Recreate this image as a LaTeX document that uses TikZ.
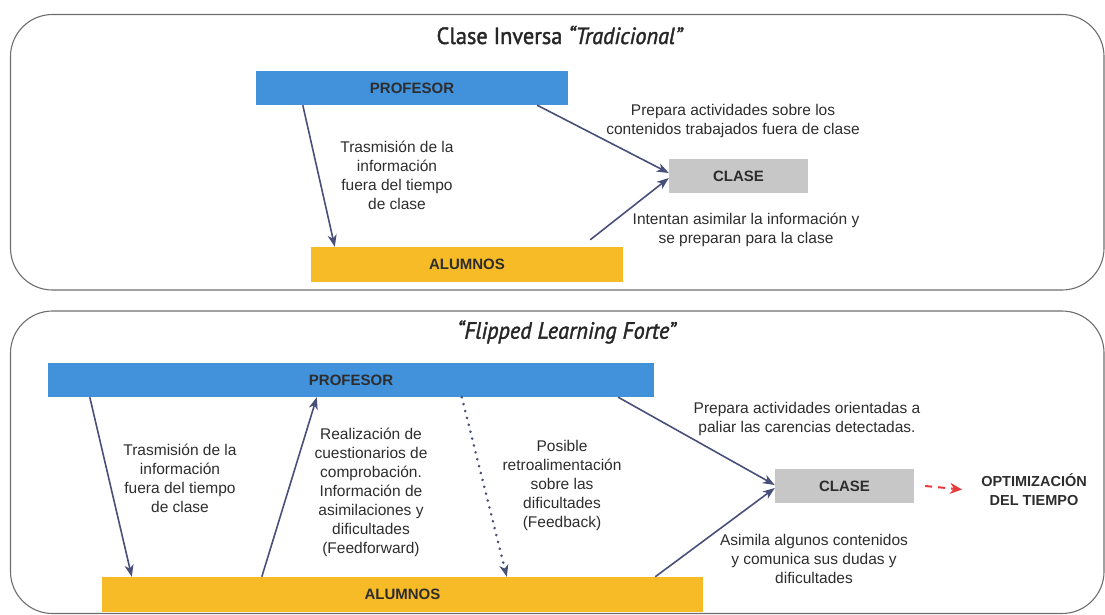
\documentclass[tikz,border=0pt]{standalone}
\usepackage{fontspec}
\setmainfont{Liberation Sans}
\newfontfamily\titulofont[FakeStretch=0.95,FakeBold=1.6]{PT Sans}
\usetikzlibrary{arrows.meta}
\definecolor{azul}{RGB}{66,146,219}
\definecolor{amarillo}{RGB}{246,187,38}
\definecolor{grisclase}{RGB}{199,199,199}
\definecolor{flechacol}{RGB}{72,80,122}
\definecolor{textocol}{RGB}{45,45,45}
\definecolor{rojo}{RGB}{232,58,58}
\definecolor{marco}{RGB}{110,110,110}

\begin{document}
\begin{tikzpicture}[x=1pt, y=-1pt,
    panel/.style={draw=marco, line width=1.1pt, rounded corners=42pt},
    caja/.style={fill=#1, inner sep=0pt, text=textocol,
      font=\fontsize{15}{18}\selectfont\bfseries},
    titulo/.style={text=black!85, inner sep=0pt, font=\titulofont\fontsize{23.5}{26}\selectfont},
    etiqueta/.style={align=center, text=textocol, inner sep=0pt,
      font=\fontsize{15.5}{19}\selectfont},
    flecha/.style={draw=flechacol, line width=1.6pt, -{Stealth[length=12pt,width=9pt,inset=3.5pt]}},
    punteada/.style={flecha, line cap=round, dash pattern=on 0.1pt off 7pt, line width=2.8pt},
    optim/.style={-{Stealth[length=12pt,width=11pt]}, draw=rojo, line width=2pt, dash pattern=on 7pt off 6pt}]
      \useasboundingbox (0,0) rectangle (1105,614);
      \draw[panel] (10.5,14.5) rectangle (1104,290);
      \draw[panel] (10.5,311) rectangle (1104,613.5);

      \node[titulo] (tit1) at (560,35) {Clase Inversa \textit{“Tradicional”}};
      \node[caja=azul, minimum width=312pt, minimum height=34pt] (prof1) at (412,88) {PROFESOR};
      \node[caja=grisclase, minimum width=139pt, minimum height=34pt] (clase1) at (738.5,176) {CLASE};
      \node[caja=amarillo, minimum width=312pt, minimum height=35pt] (alu1) at (467,264.5) {ALUMNOS};
      \node[etiqueta] (trans1) at (397,175.5) {Trasmisión de la\\información\\fuera del tiempo\\de clase};
      \node[etiqueta] (prepara1) at (733,120.5) {Prepara actividades sobre los\\contenidos trabajados fuera de clase};
      \node[etiqueta] (intentan1) at (746,229.5) {Intentan asimilar la información y\\se preparan para la clase};
      \draw[flecha] ([xshift=47pt]prof1.south west) -- ([xshift=24pt]alu1.north west);
      \draw[flecha] ([xshift=-31pt]prof1.south east) -- ([yshift=3pt]clase1.west);
      \draw[flecha] ([xshift=-33pt,yshift=7pt]alu1.north east) -- ([yshift=-2pt]clase1.west);

      \node[titulo] (tit2) at (567,332) {\textit{“Flipped Learning Forte”}};
      \node[caja=azul, minimum width=606pt, minimum height=34pt] (prof2) at (351,380) {PROFESOR};
      \node[caja=grisclase, minimum width=139pt, minimum height=34pt] (clase2) at (844.5,486) {CLASE};
      \node[caja=amarillo, minimum width=601pt, minimum height=35pt] (alu2) at (402.5,594.5) {ALUMNOS};
      \node[etiqueta, font=\fontsize{14.5}{19}\selectfont\bfseries] (optim) at (1034,489.5) {OPTIMIZACIÓN\\DEL TIEMPO};
      \node[etiqueta] (trans2) at (180,478.5) {Trasmisión de la\\información\\fuera del tiempo\\de clase};
      \node[etiqueta] (realiza2) at (371,492) {Realización de\\cuestionarios de\\comprobación.\\Información de\\asimilaciones y\\dificultades\\(Feedforward)};
      \node[etiqueta] (posible2) at (562,485) {Posible\\retroalimentación\\sobre las\\dificultades\\(Feedback)};
      \node[etiqueta] (prepara2) at (807,418.5) {Prepara actividades orientadas a\\paliar las carencias detectadas.};
      \node[etiqueta] (asimila2) at (814,559) {Asimila algunos contenidos\\y comunica sus dudas y\\dificultades};
      \draw[flecha] ([xshift=42pt]prof2.south west) -- ([xshift=30pt]alu2.north west);
      \draw[flecha] ([xshift=160pt]alu2.north west) -- ([xshift=269pt]prof2.south west);
      \draw[punteada] ([xshift=414pt]prof2.south west) -- ([xshift=405pt]alu2.north west);
      \draw[flecha] ([xshift=-36pt]prof2.south east) -- ([yshift=1pt]clase2.west);
      \draw[flecha] ([xshift=-48pt]alu2.north east) -- ([yshift=-2pt]clase2.west);
      \draw[optim] ([xshift=11pt]clase2.east) -- ([xshift=-19pt]optim.west);
\end{tikzpicture}
\end{document}
